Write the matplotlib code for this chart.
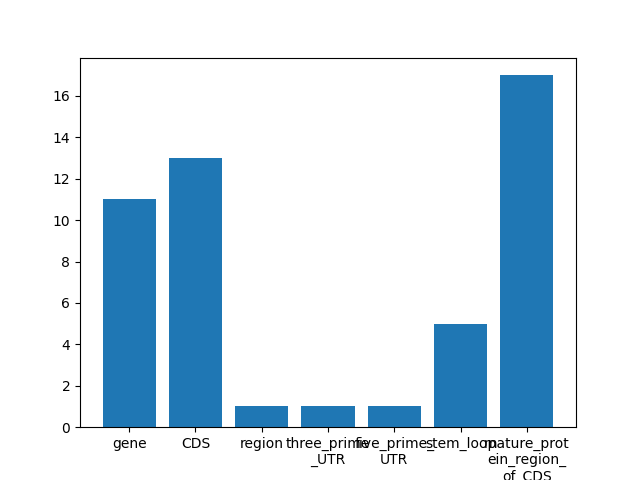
import matplotlib
matplotlib.use('Agg')
import matplotlib.pyplot as plt

features = ['gene', 'CDS', 'region', 'three_prime_UTR', 'five_prime_UTR',
            'stem_loop', 'mature_protein_region_of_CDS']
counts = [11, 13, 1, 1, 1, 5, 17]


def wrap(s, n=11):
    return '\n'.join(s[i:i + n] for i in range(0, len(s), n))


labels = [wrap(f) for f in features]

fig, ax = plt.subplots(figsize=(6.4, 4.8), dpi=100)
ax.bar(range(len(counts)), counts)
ax.set_xticks(range(len(counts)))
ax.set_xticklabels(labels)
fig.savefig('out.png')
